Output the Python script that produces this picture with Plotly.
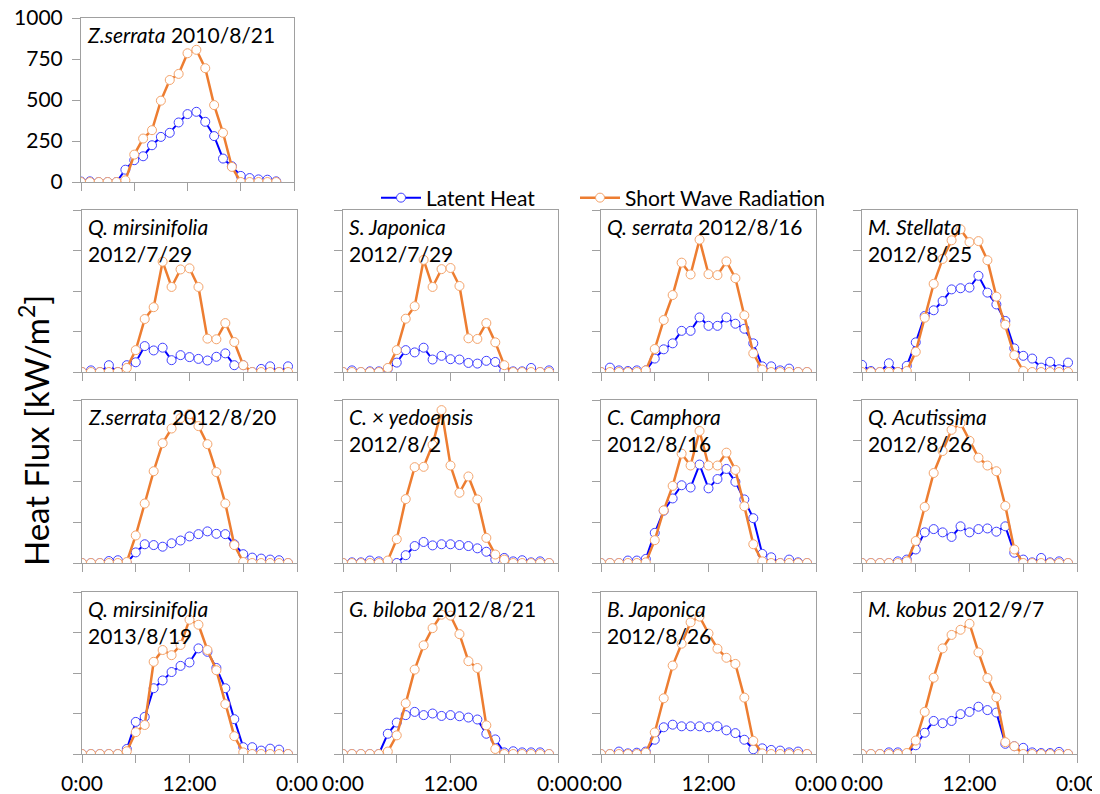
import plotly.graph_objects as go

hours = list(range(24))
x_tick_vals = [0, 6, 12, 18, 24]
x_tick_text = ['0:00', '', '12:00', '', '0:00']
y_tick_vals = [0, 250, 500, 750, 1000]
y_tick_text = ['0', '250', '500', '750', '1000']

# latent heat (le_) and short wave radiation (sw_) per tree, W/m2, hourly
le_zs_2010 = [3, 4, 0, 0, 0, 75, 133, 157, 224, 275, 300, 363, 414, 428, 367, 280, 143, 96, 37, 24, 16, 14, 4]
sw_zs_2010 = [0, 0, 0, 0, 0, 10, 167, 265, 316, 496, 622, 659, 785, 806, 694, 469, 300, 92, 0, 0, 0, 0, 0]

le_qm_2012 = [0, 10, 0, 42, 0, 42, 60, 160, 133, 150, 73, 104, 92, 81, 71, 94, 115, 42, 42, 0, 19, 35, 0, 35]
sw_qm_2012 = [0, 0, 0, 0, 0, 25, 135, 327, 400, 681, 525, 633, 640, 525, 206, 202, 302, 185, 42, 0, 0, 0, 0, 0]

le_sj_2012 = [0, 10, 0, 4, 4, 21, 58, 135, 121, 150, 77, 100, 79, 77, 56, 52, 69, 62, 4, 4, 4, 25, 0, 10]
sw_sj_2012 = [0, 0, 0, 0, 0, 25, 135, 329, 406, 692, 525, 635, 642, 531, 208, 204, 302, 183, 42, 0, 0, 0, 0, 0]

le_qs_2012 = [0, 27, 10, 6, 10, 10, 83, 140, 177, 254, 254, 337, 285, 285, 337, 298, 267, 177, 35, 35, 10, 21, 0, 0]
sw_qs_2012 = [0, 0, 0, 0, 0, 10, 142, 321, 475, 675, 602, 817, 604, 598, 683, 579, 350, 115, 15, 0, 0, 0, 0, 0]

le_ms_2012 = [44, 6, 0, 54, 0, 38, 183, 346, 381, 438, 510, 517, 521, 594, 490, 417, 315, 146, 100, 83, 27, 63, 17, 58]
sw_ms_2012 = [0, 0, 0, 0, 0, 6, 125, 335, 544, 698, 813, 881, 802, 808, 690, 465, 292, 104, 6, 0, 0, 0, 0, 0]

le_zs_2012 = [0, 0, 0, 12, 17, 0, 65, 115, 110, 100, 121, 138, 163, 177, 194, 179, 177, 115, 54, 33, 27, 21, 17, 0]
sw_zs_2012 = [0, 0, 0, 0, 0, 6, 169, 365, 563, 735, 825, 888, 913, 840, 729, 558, 365, 110, 6, 0, 0, 0, 0, 0]

le_cy_2012 = [0, 4, 4, 15, 10, 0, 0, 48, 104, 129, 108, 115, 115, 110, 104, 90, 69, 21, 31, 10, 17, 4, 10, 0]
sw_cy_2012 = [0, 0, 0, 0, 0, 15, 146, 392, 588, 590, 725, 938, 598, 431, 531, 390, 154, 52, 21, 0, 0, 0, 0, 0]

le_cc_2012 = [0, 0, 0, 15, 15, 25, 185, 321, 396, 477, 463, 604, 458, 515, 577, 498, 390, 275, 56, 35, 0, 21, 4, 0]
sw_cc_2012 = [0, 0, 0, 0, 0, 4, 140, 323, 473, 671, 598, 810, 598, 598, 677, 571, 348, 115, 10, 0, 0, 0, 0, 0]

le_qa_2012 = [0, 0, 0, 0, 10, 21, 83, 188, 208, 188, 160, 225, 188, 208, 212, 192, 225, 63, 21, 4, 31, 4, 10, 0]
sw_qa_2012 = [0, 0, 0, 0, 0, 10, 135, 344, 552, 687, 817, 858, 750, 646, 598, 563, 350, 83, 0, 0, 0, 0, 0, 0]

le_qm_2013 = [0, 0, 0, 0, 0, 31, 198, 229, 406, 454, 506, 544, 565, 652, 631, 531, 406, 215, 42, 42, 21, 33, 27, 0]
sw_qm_2013 = [0, 0, 0, 0, 0, 17, 135, 179, 569, 642, 610, 673, 829, 798, 642, 517, 308, 110, 10, 0, 0, 0, 0, 0]

le_gb_2012 = [0, 0, 0, 0, 0, 125, 194, 240, 260, 240, 250, 235, 240, 233, 225, 213, 125, 90, 10, 17, 10, 10, 10, 0]
sw_gb_2012 = [0, 0, 0, 0, 0, 15, 115, 313, 521, 671, 777, 860, 854, 740, 573, 531, 177, 31, 0, 0, 0, 0, 0, 0]

le_bj_2012 = [0, 0, 15, 4, 8, 15, 88, 165, 181, 171, 171, 171, 165, 171, 146, 129, 88, 29, 35, 25, 21, 10, 15, 0]
sw_bj_2012 = [0, 0, 0, 0, 0, 8, 133, 344, 546, 681, 813, 848, 744, 650, 594, 556, 348, 81, 4, 0, 0, 0, 0, 0]

le_mk_2012 = [0, 0, 0, 10, 10, 0, 54, 131, 204, 190, 204, 246, 260, 292, 271, 256, 63, 48, 38, 10, 6, 6, 13, 0]
sw_mk_2012 = [0, 0, 0, 0, 0, 6, 83, 260, 471, 652, 735, 767, 804, 627, 469, 350, 73, 48, 0, 0, 0, 0, 0, 0]

panels = [
    ('Z.serrata', '2010/8/21', False, le_zs_2010, sw_zs_2010),
    ('Q. mirsinifolia', '2012/7/29', True, le_qm_2012, sw_qm_2012),
    ('S. Japonica', '2012/7/29', True, le_sj_2012, sw_sj_2012),
    ('Q. serrata', '2012/8/16', False, le_qs_2012, sw_qs_2012),
    ('M. Stellata', '2012/8/25', True, le_ms_2012, sw_ms_2012),
    ('Z.serrata', '2012/8/20', False, le_zs_2012, sw_zs_2012),
    ('C. \u00d7 yedoensis', '2012/8/2', True, le_cy_2012, sw_cy_2012),
    ('C. Camphora', '2012/8/16', True, le_cc_2012, sw_cc_2012),
    ('Q. Acutissima', '2012/8/26', True, le_qa_2012, sw_qa_2012),
    ('Q. mirsinifolia', '2013/8/19', True, le_qm_2013, sw_qm_2013),
    ('G. biloba', '2012/8/21', False, le_gb_2012, sw_gb_2012),
    ('B. Japonica', '2012/8/26', True, le_bj_2012, sw_bj_2012),
    ('M. kobus', '2012/9/7', False, le_mk_2012, sw_mk_2012),
]

# the page body has an 8px margin; the figure runs from there to the window edge
PAGE_W, PAGE_H, OFF = 1100, 794, 8
W, H = PAGE_W - OFF, PAGE_H - OFF


def px(x):
    return (x - OFF) / W


def py(y):
    return 1 - (y - OFF) / H


# panel boxes in page pixels: (left, right, top, bottom)
cols = [(82, 297), (343, 558), (601, 816), (862, 1077)]
rows = [(210, 372), (400, 563), (592, 754)]
boxes = [(81, 294, 18, 182)]
for r in rows:
    for c in cols:
        boxes.append((c[0], c[1], r[0], r[1]))

FONT = 'Lato'
BLUE = '#0000ff'
ORANGE = '#ed7d31'
AXIS = '#a0a0a0'

fig = go.Figure()
annotations = []
for i, (name, date, two_line, le, sw) in enumerate(panels):
    n = '' if i == 0 else str(i + 1)
    left, right, top, bottom = boxes[i]
    bottom_row = i >= 9
    fig.add_trace(go.Scatter(
        x=hours[:len(le)], y=le, xaxis='x' + n, yaxis='y' + n,
        mode='lines+markers', name='Latent Heat', showlegend=(i == 0), legend='legend',
        line=dict(color=BLUE, width=2),
        marker=dict(symbol='circle', size=9, color='white',
                    line=dict(color='#4040ff', width=1))
    ))
    fig.add_trace(go.Scatter(
        x=hours[:len(sw)], y=sw, xaxis='x' + n, yaxis='y' + n,
        mode='lines+markers', name='Short Wave Radiation', showlegend=(i == 0), legend='legend2',
        line=dict(color=ORANGE, width=2.5),
        marker=dict(symbol='circle', size=9, color='white',
                    line=dict(color='#f4a46c', width=1))
    ))
    fig.update_layout(**{
        'xaxis' + n: dict(
            domain=[px(left), px(right)], anchor='y' + n, range=[0, 24],
            tickvals=x_tick_vals, ticktext=x_tick_text if bottom_row else [' '] * 5,
            ticks='outside', ticklen=8, tickcolor=AXIS, showgrid=False, zeroline=False,
            showline=True, mirror=True, linecolor=AXIS, linewidth=1, automargin=False,
            ticklabeloverflow='allow', ticklabelstandoff=3,
            tickfont=dict(family=FONT, size=21, color='#000000'), fixedrange=True
        ),
        'yaxis' + n: dict(
            domain=[py(bottom), py(top)], anchor='x' + n, range=[0, 1000],
            tickvals=y_tick_vals, ticktext=y_tick_text if i == 0 else [' '] * 5,
            ticks='outside', ticklen=8, tickcolor=AXIS, showgrid=False, zeroline=False,
            showline=True, mirror=True, linecolor=AXIS, linewidth=1, automargin=False,
            ticklabeloverflow='allow', ticklabelstandoff=5,
            tickfont=dict(family=FONT, size=21, color='#000000'), fixedrange=True
        ),
    })
    sep = '<br>' if two_line else ' '
    annotations.append(dict(
        text='<i>' + name + '</i>' + sep + date,
        xref='paper', yref='paper', x=px(left + 4), y=py(top + 2),
        xanchor='left', yanchor='top', align='left', showarrow=False,
        font=dict(family=FONT, size=21, color='#000000')
    ))

annotations.append(dict(
    text='Heat Flux [kW/m<sup>2</sup>]', textangle=-90,
    xref='paper', yref='paper', x=px(34), y=py(431),
    xanchor='center', yanchor='middle', showarrow=False,
    font=dict(family=FONT, size=33, color='#000000')
))

legend_style = dict(
    orientation='h', yanchor='middle', xanchor='left', itemwidth=40,
    font=dict(family=FONT, size=21, color='#000000'),
    bgcolor='rgba(0,0,0,0)', borderwidth=0
)

fig.update_layout(
    width=W, height=H,
    margin=dict(l=0, r=0, t=0, b=0),
    paper_bgcolor='white', plot_bgcolor='white',
    annotations=annotations,
    showlegend=True,
    legend=dict(x=px(376), y=py(198), **legend_style),
    legend2=dict(x=px(575), y=py(198), **legend_style),
)

fig.write_html('out.html')
